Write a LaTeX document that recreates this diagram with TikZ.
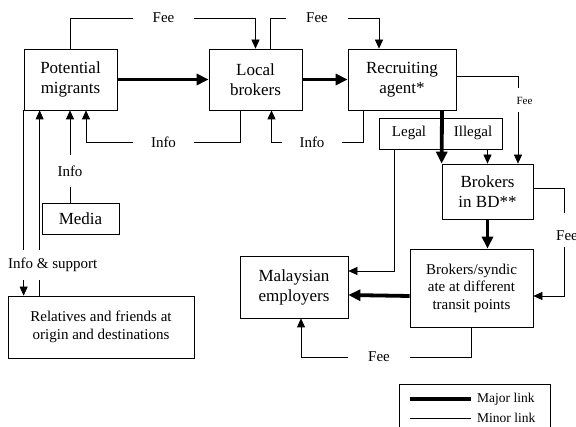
\documentclass[tikz,border=0pt]{standalone}
\usepackage{fontspec}
\setmainfont{Liberation Serif}
\usetikzlibrary{arrows.meta,calc}
\begin{document}
\begin{tikzpicture}[x=1pt,y=-1pt,
  box/.style={draw, line width=0.7pt, inner sep=0pt, align=center, font=\fontsize{17}{20}\selectfont},
  lab/.style={inner sep=0pt, font=\fontsize{15}{18}\selectfont},
  smalllab/.style={inner sep=0pt, font=\fontsize{11}{13}\selectfont},
  leglab/.style={inner sep=0pt, anchor=west, font=\fontsize{13.5}{16}\selectfont},
  thin/.style={line width=0.7pt},
  thinarr/.style={thin,-{Triangle[length=9pt,width=8pt]}},
  major/.style={line width=3.8pt,-{Triangle[length=12pt,width=11pt]}},
  majorline/.style={line width=3.8pt},
  ]
\useasboundingbox (0,0) rectangle (576,427);

% boxes
\node[box, minimum width=93pt, minimum height=61pt] (pm) at (70.5,79.5) {Potential\\migrants};
\node[box, minimum width=93pt, minimum height=61pt] (lb) at (255.5,79.5) {Local\\brokers};
\node[box, minimum width=108pt, minimum height=61pt] (ra) at (402,79.5) {Recruiting\\agent*};
\node[box, minimum width=123pt, minimum height=31pt] (li) at (440.5,133.5) {};
\node[lab] (legal) at (409,133) {Legal};
\node[lab] (illegal) at (473,133) {Illegal};
\node[box, minimum width=91pt, minimum height=55pt] (bd) at (487.5,191.5) {Brokers\\in BD**};
\node[box, minimum width=77pt, minimum height=31pt] (media) at (80.5,218.5) {Media};
\node[box, minimum width=186pt, minimum height=62pt, font=\fontsize{15}{17.7}\selectfont] (rel) at (101,327) {Relatives and friends at\\origin and destinations};
\node[box, minimum width=108pt, minimum height=62pt] (me) at (294,287) {Malaysian\\employers};
\node[box, minimum width=123pt, minimum height=78pt, font=\fontsize{15}{17.5}\selectfont] (bs) at (471.5,288) {Brokers/syndic\\ate at different\\transit points};
\node[draw, line width=0.7pt, minimum width=151pt, minimum height=60pt, anchor=north west] (leg) at (399,384) {};

% labels
\node[lab, minimum width=61pt, minimum height=14pt] (fee1) at (163.5,18) {Fee};
\node[lab, minimum width=62pt, minimum height=14pt] (fee2) at (317,18) {Fee};
\node[lab, minimum width=61pt, minimum height=14pt] (info1) at (163.5,142) {Info};
\node[lab, minimum width=60pt, minimum height=14pt] (info2) at (312,142) {Info};
\node[lab, minimum height=32pt] (info3) at (70,171) {Info};
\node[lab, anchor=west, minimum height=30pt] (infosup) at (8,265) {Info \& support};
\node[smalllab] (fee3) at (524.5,101) {Fee};
\node[lab] (fee4) at (567,236) {Fee};
\node[lab, minimum width=62pt, minimum height=14pt] (fee5) at (379,357) {Fee};
\node[leglab] (major) at (477,399) {Major link};
\node[leglab] (minor) at (477,418) {Minor link};

% helper coordinates
\coordinate (xa) at ($(pm.south west)+(16,0)$);

% major links
\draw[major] (pm) -- (lb);
\draw[major] (lb) -- (ra);
\draw[major] ($(ra.south)+(40,0)$) -- (bd.north west);
\draw[major] (bd.south) -- (bd.south |- bs.north);
\draw[major] ($(bs.west)+(0,8)$) -- ($(me.east)+(0,8)$);

% fee PM -> LB
\draw[thin] (pm.north) |- (fee1.west);
\draw[thinarr] (fee1.east) -| (lb.north);
% fee LB -> RA
\draw[thin] ($(lb.north)+(15,0)$) |- (fee2.west);
\draw[thinarr] (fee2.east) -| ($(ra.north)+(-23,0)$);
% info LB -> PM
\draw[thin] ($(lb.south)+(-15.5,0)$) |- (info1.east);
\draw[thinarr] (info1.west) -| ($(pm.south)+(15.5,0)$);
% info RA -> LB
\draw[thin] ($(ra.south)+(-39,0)$) |- (info2.east);
\draw[thinarr] (info2.west) -| ($(lb.south)+(16,0)$);
% media -> PM
\draw[thin] (media.north -| info3) -- (info3.south);
\draw[thinarr] (info3.north) -- (pm.south -| info3);
% PM <-> relatives
\draw[thin] (pm.south west) -- (pm.south west |- infosup.north);
\draw[thinarr] (pm.south west |- infosup.south) -- (rel.north -| pm.south west);
\draw[thin] (rel.north -| xa) -- (infosup.south -| xa);
\draw[thinarr] (infosup.north -| xa) -- (pm.south -| xa);
% RA fee -> BD
\draw[thin] ($(ra.east)+(0,-3.5)$) -| ($(fee3.center)+(-6.5,-13)$);
\draw[thinarr] ($(fee3.center)+(-6.5,11)$) -- ($(bd.north)+(30.5,0)$);
% illegal -> BD
\draw[thinarr] (li.south -| bd.north) -- (bd.north);
% legal -> ME
\draw[thinarr] ($(li.south west)+(16,0)$) |- ($(me.east)+(0,-16)$);
% BD fee -> BS
\draw[thin] ($(bd.east)+(0,-3.5)$) -| ($(fee4.center)+(-3,-23)$);
\draw[thinarr] ($(fee4.center)+(-3,11)$) |- ($(bs.east)+(0,8)$);
% BS fee -> ME
\draw[thin] (bs.south) |- (fee5.east);
\draw[thinarr] (fee5.west) -| ($(me.south)+(7,0)$);

% legend
\draw[majorline] ($(major.west)+(-67,0)$) -- ($(major.west)+(-6,0)$);
\draw[thin] ($(minor.west)+(-67,0)$) -- ($(minor.west)+(-6,0)$);
\end{tikzpicture}
\end{document}
